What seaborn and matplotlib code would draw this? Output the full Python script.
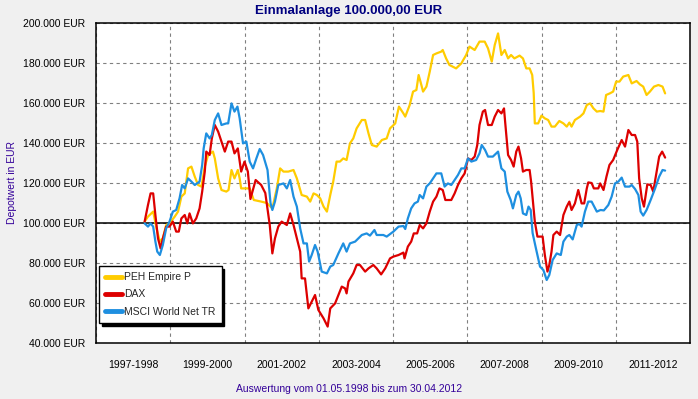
import numpy as np
import pandas as pd
import matplotlib
matplotlib.use("Agg")
import matplotlib.pyplot as plt
import seaborn as sns
from matplotlib.ticker import FixedLocator, FixedFormatter, NullFormatter, FuncFormatter

# ---------------- data (decimal year, value in thousand EUR) ----------------
series_names = ["PEH Empire P", "DAX", "MSCI World Net TR"]
series_colors = ["#FFCC00", "#DD0000", "#1E8FE0"]

peh_t = [1998.31, 1998.40, 1998.54, 1998.63, 1998.72, 1998.80, 1998.89, 1998.98, 1999.12, 1999.21,
         1999.30, 1999.39, 1999.48, 1999.57, 1999.66, 1999.75, 1999.84, 1999.93, 2000.02, 2000.15,
         2000.20, 2000.29, 2000.38, 2000.51, 2000.57, 2000.65, 2000.73, 2000.82, 2000.87, 2000.91,
         2001.00, 2001.14, 2001.25, 2001.45, 2001.60, 2001.75, 2001.87, 2001.96, 2002.05, 2002.18,
         2002.32, 2002.41, 2002.54, 2002.68, 2002.77, 2002.86, 2002.95, 2003.04, 2003.13, 2003.22,
         2003.31, 2003.39, 2003.48, 2003.57, 2003.66, 2003.75, 2003.84, 2003.93, 2004.02, 2004.16,
         2004.25, 2004.34, 2004.43, 2004.56, 2004.70, 2004.83, 2004.92, 2005.06, 2005.16, 2005.28,
         2005.33, 2005.45, 2005.54, 2005.63, 2005.69, 2005.74, 2005.81, 2005.90, 2005.99, 2006.08,
         2006.17, 2006.30, 2006.34, 2006.43, 2006.52, 2006.70, 2006.84, 2006.97, 2007.06, 2007.20,
         2007.33, 2007.47, 2007.56, 2007.66, 2007.74, 2007.83, 2007.92, 2008.01, 2008.10, 2008.18,
         2008.27, 2008.41, 2008.50, 2008.59, 2008.68, 2008.75, 2008.79, 2008.82, 2008.91, 2009.00,
         2009.09, 2009.18, 2009.27, 2009.36, 2009.48, 2009.59, 2009.68, 2009.75, 2009.81, 2009.90,
         2010.04, 2010.13, 2010.22, 2010.31, 2010.40, 2010.49, 2010.58, 2010.67, 2010.74, 2010.84,
         2010.93, 2011.01, 2011.10, 2011.20, 2011.34, 2011.43, 2011.56, 2011.65, 2011.74, 2011.83,
         2011.92, 2012.03, 2012.15, 2012.26, 2012.33]
peh_v = [100.7, 103.2, 105.7, 97.3, 90.7, 92.3, 99.0, 99.8, 103.2, 105.7,
         113.2, 114.8, 127.3, 128.2, 123.2, 119.0, 118.2, 128.2, 134.0, 135.7,
         132.3, 122.3, 116.5, 115.7, 116.5, 126.5, 122.3, 126.5, 122.3, 117.3,
         117.3, 117.3, 111.5, 110.7, 110.0, 107.3, 117.3, 127.3, 125.7, 125.7,
         126.5, 122.3, 114.0, 113.2, 110.7, 114.8, 114.0, 112.3, 108.2, 105.7,
         114.0, 120.7, 130.7, 130.7, 132.3, 131.5, 139.8, 142.3, 147.3, 151.5,
         151.5, 144.8, 139.0, 138.2, 141.5, 142.3, 147.3, 149.8, 158.2, 154.8,
         153.2, 159.0, 165.7, 166.5, 174.0, 170.7, 165.7, 168.2, 175.7, 184.0,
         184.8, 185.7, 186.5, 182.3, 179.0, 177.3, 179.8, 184.0, 188.2, 186.5,
         190.7, 190.7, 187.3, 180.7, 189.0, 194.8, 184.0, 186.5, 182.3, 184.0,
         182.3, 183.7, 182.3, 177.3, 177.3, 174.0, 165.0, 149.8, 149.8, 153.7,
         152.3, 151.5, 148.2, 148.2, 151.0, 149.8, 148.2, 150.2, 148.2, 151.5,
         153.2, 154.8, 159.0, 159.8, 157.3, 155.7, 156.0, 155.7, 164.0, 164.8,
         165.7, 170.7, 170.7, 173.2, 174.0, 169.8, 171.0, 169.3, 168.2, 164.0,
         165.7, 168.2, 169.0, 168.2, 164.8]

dax_t = [1998.31, 1998.40, 1998.47, 1998.54, 1998.60, 1998.67, 1998.74, 1998.80, 1998.89, 1998.98,
         1999.07, 1999.16, 1999.23, 1999.30, 1999.39, 1999.46, 1999.52, 1999.61, 1999.70, 1999.79,
         1999.86, 1999.93, 1999.97, 2000.06, 2000.12, 2000.20, 2000.29, 2000.38, 2000.47, 2000.56,
         2000.65, 2000.73, 2000.82, 2000.91, 2001.00, 2001.09, 2001.16, 2001.30, 2001.45, 2001.56,
         2001.68, 2001.75, 2001.82, 2001.91, 2002.00, 2002.14, 2002.23, 2002.32, 2002.41, 2002.50,
         2002.54, 2002.63, 2002.72, 2002.81, 2002.90, 2002.99, 2003.13, 2003.24, 2003.31, 2003.44,
         2003.53, 2003.62, 2003.71, 2003.75, 2003.80, 2003.93, 2004.02, 2004.11, 2004.25, 2004.34,
         2004.47, 2004.56, 2004.68, 2004.79, 2004.92, 2005.01, 2005.15, 2005.28, 2005.31, 2005.40,
         2005.49, 2005.56, 2005.65, 2005.72, 2005.81, 2005.90, 2005.99, 2006.08, 2006.17, 2006.25,
         2006.34, 2006.41, 2006.48, 2006.57, 2006.66, 2006.75, 2006.84, 2006.93, 2007.02, 2007.11,
         2007.20, 2007.27, 2007.33, 2007.42, 2007.48, 2007.56, 2007.66, 2007.74, 2007.83, 2007.92,
         2007.99, 2008.02, 2008.10, 2008.18, 2008.25, 2008.32, 2008.38, 2008.45, 2008.50, 2008.59,
         2008.68, 2008.72, 2008.78, 2008.82, 2008.89, 2008.96, 2009.03, 2009.09, 2009.16, 2009.21,
         2009.27, 2009.32, 2009.41, 2009.50, 2009.59, 2009.68, 2009.75, 2009.81, 2009.90, 2009.99,
         2010.08, 2010.15, 2010.22, 2010.26, 2010.35, 2010.41, 2010.53, 2010.58, 2010.67, 2010.75,
         2010.83, 2010.93, 2011.04, 2011.16, 2011.25, 2011.34, 2011.43, 2011.52, 2011.58, 2011.63,
         2011.70, 2011.76, 2011.85, 2011.94, 2012.01, 2012.10, 2012.17, 2012.25, 2012.33]
dax_v = [100.7, 109.0, 114.8, 114.8, 104.0, 92.3, 87.3, 92.3, 98.2, 98.2,
         100.7, 95.7, 95.7, 102.3, 104.0, 99.8, 104.8, 99.8, 102.3, 107.3,
         115.7, 125.7, 135.7, 134.0, 142.3, 149.0, 145.7, 140.7, 135.7, 140.7,
         140.7, 134.8, 137.3, 125.7, 130.7, 125.7, 112.0, 121.5, 119.0, 115.0,
         99.0, 84.8, 92.3, 98.2, 100.7, 99.0, 104.8, 99.0, 92.3, 85.7,
         72.3, 72.3, 57.3, 60.7, 64.0, 56.5, 52.3, 48.2, 57.3, 59.8,
         64.0, 68.2, 67.3, 64.8, 70.7, 74.8, 79.0, 79.0, 75.7, 77.3,
         79.0, 77.3, 74.3, 77.3, 82.3, 83.2, 84.0, 85.2, 82.3, 88.2,
         90.7, 94.8, 94.8, 99.0, 97.3, 99.8, 105.7, 110.7, 113.2, 117.3,
         116.5, 111.5, 111.5, 111.5, 114.8, 119.0, 122.3, 124.8, 132.3, 131.5,
         133.2, 139.0, 149.0, 155.7, 156.5, 149.0, 149.0, 153.2, 156.5, 154.8,
         157.3, 150.7, 134.0, 131.5, 128.2, 135.7, 138.2, 132.3, 125.7, 126.5,
         126.5, 120.7, 109.0, 100.7, 93.2, 93.2, 93.2, 84.0, 75.7, 79.0,
         85.7, 94.0, 95.7, 94.0, 104.0, 108.2, 110.7, 106.5, 109.8, 116.5,
         109.8, 109.8, 117.3, 120.3, 120.0, 117.3, 117.3, 119.8, 116.5, 123.2,
         129.0, 131.5, 136.5, 141.5, 138.2, 146.5, 144.0, 144.0, 140.7, 122.3,
         112.3, 108.2, 119.3, 119.0, 115.7, 125.7, 133.2, 135.7, 132.7]

msci_t = [1998.31, 1998.40, 1998.47, 1998.54, 1998.60, 1998.65, 1998.72, 1998.80, 1998.89, 1998.98,
          1999.07, 1999.16, 1999.25, 1999.32, 1999.39, 1999.48, 1999.57, 1999.66, 1999.79, 1999.86,
          1999.90, 1999.97, 2000.06, 2000.12, 2000.20, 2000.29, 2000.38, 2000.51, 2000.56, 2000.65,
          2000.73, 2000.81, 2000.87, 2000.96, 2001.05, 2001.14, 2001.23, 2001.32, 2001.41, 2001.50,
          2001.62, 2001.70, 2001.75, 2001.82, 2001.91, 2002.05, 2002.14, 2002.23, 2002.32, 2002.41,
          2002.50, 2002.59, 2002.68, 2002.74, 2002.81, 2002.90, 2002.97, 2003.08, 2003.22, 2003.31,
          2003.39, 2003.53, 2003.66, 2003.75, 2003.84, 2003.98, 2004.16, 2004.29, 2004.38, 2004.50,
          2004.56, 2004.74, 2004.83, 2005.01, 2005.15, 2005.28, 2005.33, 2005.40, 2005.49, 2005.58,
          2005.67, 2005.72, 2005.81, 2005.90, 2005.99, 2006.08, 2006.17, 2006.30, 2006.39, 2006.48,
          2006.57, 2006.66, 2006.75, 2006.84, 2006.93, 2007.02, 2007.11, 2007.24, 2007.33, 2007.39,
          2007.48, 2007.56, 2007.69, 2007.83, 2007.92, 2008.01, 2008.08, 2008.17, 2008.23, 2008.32,
          2008.38, 2008.44, 2008.50, 2008.59, 2008.65, 2008.71, 2008.76, 2008.85, 2008.96, 2009.05,
          2009.14, 2009.21, 2009.30, 2009.41, 2009.52, 2009.59, 2009.68, 2009.75, 2009.84, 2009.95,
          2010.02, 2010.08, 2010.17, 2010.26, 2010.35, 2010.49, 2010.59, 2010.68, 2010.80, 2010.89,
          2010.98, 2011.07, 2011.16, 2011.25, 2011.37, 2011.43, 2011.52, 2011.61, 2011.67, 2011.74,
          2011.83, 2011.94, 2012.06, 2012.17, 2012.26, 2012.33]
msci_v = [99.8, 98.2, 99.8, 98.2, 90.7, 85.7, 84.0, 89.0, 97.3, 100.7,
          105.7, 106.5, 112.3, 119.0, 117.3, 122.3, 120.7, 119.0, 120.7, 129.0,
          137.3, 144.8, 142.3, 144.0, 151.5, 154.8, 149.0, 149.8, 149.8, 159.8,
          155.7, 158.2, 152.3, 139.8, 140.7, 130.7, 127.3, 132.3, 137.0, 134.0,
          126.5, 110.0, 106.5, 110.7, 119.0, 119.8, 117.3, 121.5, 113.2, 108.2,
          97.3, 89.8, 89.8, 80.7, 84.0, 89.0, 85.7, 75.7, 74.8, 78.2,
          79.0, 84.8, 89.8, 85.7, 89.8, 90.7, 94.0, 94.8, 93.7, 96.5,
          94.0, 94.0, 93.2, 95.7, 98.2, 98.5, 97.0, 102.3, 107.3, 109.8,
          110.7, 114.0, 112.3, 118.2, 119.8, 122.3, 124.8, 124.8, 118.2, 119.8,
          119.0, 121.5, 124.0, 127.3, 127.3, 132.3, 130.7, 131.5, 134.8, 139.0,
          136.5, 133.2, 133.2, 135.7, 127.3, 125.7, 115.7, 111.5, 107.3, 114.0,
          115.7, 112.3, 104.8, 104.0, 108.2, 106.5, 95.0, 87.3, 78.2, 76.5,
          71.5, 74.0, 81.5, 84.8, 84.0, 90.7, 93.2, 94.0, 91.8, 99.0,
          99.5, 98.2, 105.7, 110.7, 110.7, 105.7, 106.5, 106.3, 109.0, 113.2,
          119.8, 120.7, 122.7, 118.2, 118.2, 119.0, 117.0, 114.0, 105.7, 103.7,
          106.5, 111.5, 117.3, 123.2, 126.5, 126.2]

y_ticks = [40, 60, 80, 100, 120, 140, 160, 180, 200]
period_labels = ["1997-1998", "1999-2000", "2001-2002", "2003-2004",
                 "2005-2006", "2007-2008", "2009-2010", "2011-2012"]

title_text = "Einmalanlage 100.000,00 EUR"
ylabel_text = "Depotwert in EUR"
footer_text = "Auswertung vom 01.05.1998 bis zum 30.04.2012"

# ---------------- build long table ----------------
df = pd.concat([
    pd.DataFrame({"t": peh_t, "v": peh_v, "series": series_names[0]}),
    pd.DataFrame({"t": dax_t, "v": dax_v, "series": series_names[1]}),
    pd.DataFrame({"t": msci_t, "v": msci_v, "series": series_names[2]}),
], ignore_index=True)

sns.set_style("white")
plt.rcParams["font.family"] = ["Liberation Sans", "DejaVu Sans"]

W, H = 698, 399
fig = plt.figure(figsize=(W / 100, H / 100), dpi=100, facecolor="#F0F0F0")
ax = fig.add_axes([96 / W, 1 - 343 / H, 594 / W, 320 / H])
ax.set_facecolor("white")

sns.lineplot(data=df, x="t", y="v", hue="series", hue_order=series_names,
             palette=series_colors, estimator=None, sort=False,
             linewidth=1.6, ax=ax, zorder=3)

ax.set_xlim(1997, 2013)
ax.set_ylim(40, 200)
ax.set_xlabel("")
ax.set_ylabel("")

# y axis
ax.yaxis.set_major_locator(FixedLocator(y_ticks))
ax.yaxis.set_major_formatter(FuncFormatter(lambda v, p: f"{int(round(v))}.000 EUR"))
ax.tick_params(axis="y", which="major", length=5, width=1, direction="out",
               pad=2.5, labelsize=7.5, colors="black")

# x axis: major ticks every 2 years (grid), minor every half year, labels centred
major_x = list(range(1997, 2014, 2))
minor_x = [1997 + 0.5 * i for i in range(1, 32) if (0.5 * i) % 2 != 0]
label_pos = [1998 + 2 * i for i in range(len(period_labels))]
minor_labels = []
for m in minor_x:
    if m in label_pos:
        minor_labels.append(period_labels[label_pos.index(m)])
    else:
        minor_labels.append("")
ax.xaxis.set_major_locator(FixedLocator(major_x))
ax.xaxis.set_major_formatter(NullFormatter())
ax.xaxis.set_minor_locator(FixedLocator(minor_x))
ax.xaxis.set_minor_formatter(FixedFormatter(minor_labels))
ax.tick_params(axis="x", which="major", length=5, width=1, direction="out", colors="black")
ax.tick_params(axis="x", which="minor", length=2.5, width=1, direction="out",
               pad=9.5, labelsize=7.5, colors="black")

# grid
ax.grid(True, which="major", axis="both", color="#808080",
        linestyle=(0, (3, 3)), linewidth=0.8, zorder=1)
ax.set_axisbelow(True)
ax.axhline(100, color="black", linewidth=1.1, zorder=2)

for s in ax.spines.values():
    s.set_visible(True)
    s.set_color("black")
    s.set_linewidth(1.1)

# legend
handles, labels = ax.get_legend_handles_labels()
leg = ax.legend(handles, labels, loc="lower left", bbox_to_anchor=(0.005, 0.0625),
                borderaxespad=0, frameon=True, fancybox=False,
                shadow={"color": "black", "alpha": 1.0},
                edgecolor="black", framealpha=1, fontsize=7.5,
                handlelength=1.6, handletextpad=0.2, borderpad=0.6,
                labelspacing=0.7)
leg.get_frame().set_linewidth(1.0)
for ln in leg.get_lines():
    ln.set_linewidth(3.5)
    ln.set_solid_capstyle("round")
leg.set_zorder(5)

# texts
fig.text(0.5, 1 - 11 / H, title_text, ha="center", va="center",
         fontsize=9.5, fontweight="bold", color="#000080")
fig.text(12 / W, 1 - 183 / H, ylabel_text, rotation=90, ha="center", va="center",
         fontsize=7.5, color="#330099")
fig.text(349 / W, 1 - 389 / H, footer_text, ha="center", va="center",
         fontsize=7.5, color="#330099")

fig.savefig("out.png", dpi=100, facecolor=fig.get_facecolor())
